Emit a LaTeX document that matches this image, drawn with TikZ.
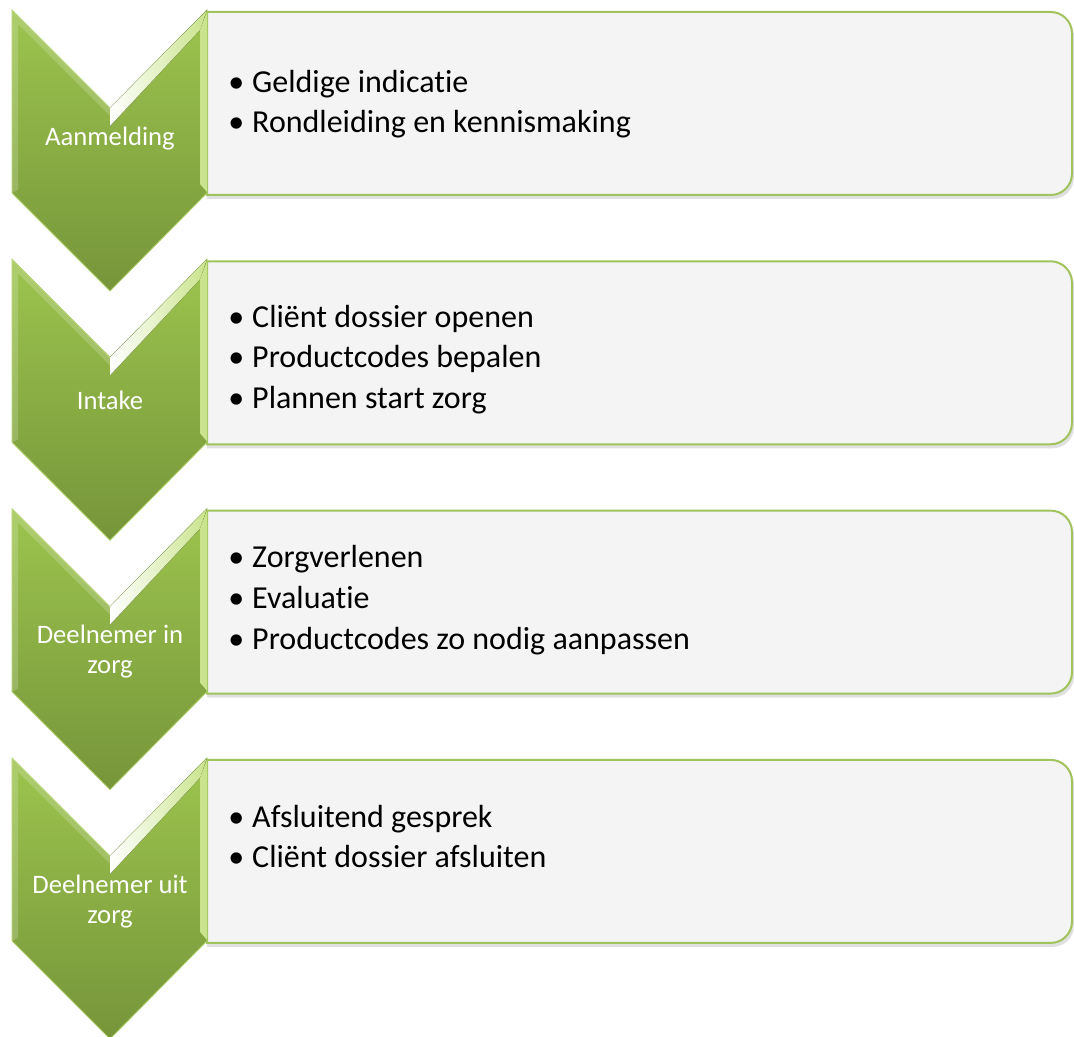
\documentclass[tikz,border=0pt]{standalone}
\usepackage{fontspec}
\setmainfont[Ligatures=NoCommon]{Carlito}
\definecolor{chevtop}{HTML}{9DC44E}
\definecolor{chevbot}{HTML}{76953A}
\definecolor{chevedge}{HTML}{AFD167}
\definecolor{chevlight}{HTML}{C9E48C}
\definecolor{boxedge}{HTML}{A0C35B}
\definecolor{boxfill}{HTML}{F4F4F4}

\begin{document}
\begin{tikzpicture}[x=0.75pt, y=-0.75pt]

    \tikzstyle{chevron} = [top color=chevtop, bottom color=chevbot, draw=chevedge, line width=0.6pt]
    \tikzstyle{bevel} = [left color=white, right color=chevlight]
    \tikzstyle{stepbox} = [fill=boxfill, draw=boxedge, line width=1.5pt]
    \tikzstyle{boxshadow} = [fill=black, opacity=0.12]
    \tikzstyle{item} = [anchor=base west, inner sep=0pt, font=\fontsize{24}{29}\selectfont, execute at begin node={\makebox[18pt][l]{•}}]
    \tikzstyle{steplabel} = [anchor=base, inner sep=0pt, text=white, align=center, font=\fontsize{20}{22.5}\selectfont]

    \useasboundingbox (0,0) rectangle (1074,1037);

    % Boxes
    \foreach \i in {0,...,3} {
        \pgfmathsetmacro{\t}{12+249.3*\i}
        \fill[boxshadow] (207,\t+3) -- (1000,\t+3) [rounded corners=16pt] -- (1074,\t+3) -- (1074,\t+187) -- (1000,\t+187) [sharp corners] -- (207,\t+187) -- cycle;
        \draw[stepbox] (207,\t) -- (1000,\t) [rounded corners=16pt] -- (1072,\t) -- (1072,\t+183) -- (1000,\t+183) [sharp corners] -- (207,\t+183) -- cycle;
    }

    % Chevrons
    \foreach \i in {0,...,3} {
        \pgfmathsetmacro{\t}{10+249.3*\i}
        \draw[chevron] (12,\t) -- (110,\t+98) -- (207,\t) -- (207,\t+183) -- (110,\t+281) -- (12,\t+183) -- cycle;
        \fill[bevel] (110,\t+98) -- (207,\t) -- (200,\t+20) -- (110,\t+116) -- cycle;
        \fill[chevlight] (200,\t+20) -- (207,\t+2) -- (207,\t+182) -- (200,\t+174) -- cycle;
        \fill[white, opacity=0.18] (12,\t) -- (110,\t+98) -- (110,\t+106) -- (18,\t+14) -- (18,\t+180) -- (12,\t+183) -- cycle;
    }

    % Step labels
    \node[steplabel] (aanmelding) at (110,146) {Aanmelding};
    \node[steplabel] (intake) at (110,409) {Intake};
    \node[steplabel] (inzorg) at (110,673) {Deelnemer in\\zorg};
    \node[steplabel] (uitzorg) at (110,923) {Deelnemer uit\\zorg};

    % Items
    \node[item] (indicatie) at (228,93) {Geldige indicatie};
    \node[item] (rondleiding) at (228,133) {Rondleiding en kennismaking};
    \node[item] (dossier) at (228,328) {Cliënt dossier openen};
    \node[item] (codes) at (228,368) {Productcodes bepalen};
    \node[item] (plannen) at (228,408) {Plannen start zorg};
    \node[item] (zorgverlenen) at (228,567) {Zorgverlenen};
    \node[item] (evaluatie) at (228,608) {Evaluatie};
    \node[item] (aanpassen) at (228,649) {Productcodes zo nodig aanpassen};
    \node[item] (gesprek) at (228,827) {Afsluitend gesprek};
    \node[item] (afsluiten) at (228,867) {Cliënt dossier afsluiten};

\end{tikzpicture}
\end{document}
